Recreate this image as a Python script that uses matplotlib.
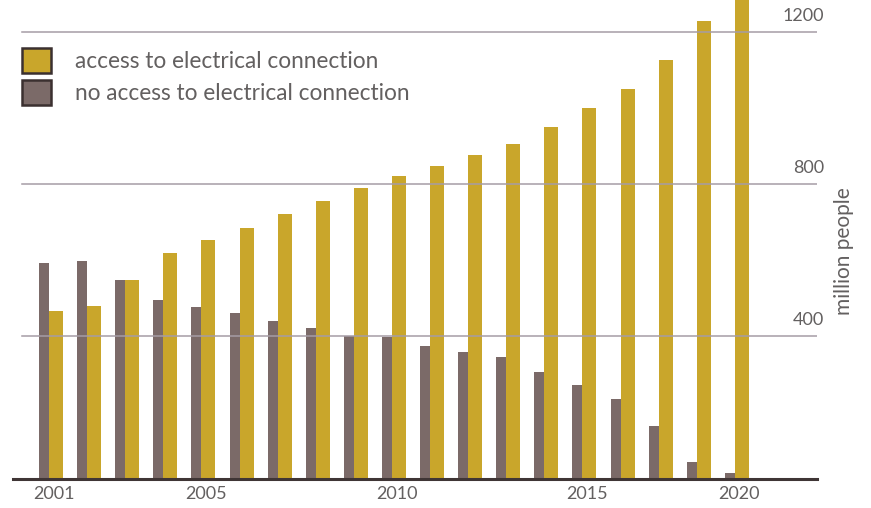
import numpy as np
import matplotlib.pyplot as plt
import matplotlib.transforms as mtransforms
from matplotlib.patches import Patch

# Values (million people), one pair per bar group
access = [466, 478, 547, 617, 651, 684, 719, 755, 789, 820,
          846, 875, 904, 950, 998, 1048, 1125, 1229, 1320]
no_access = [592, 597, 547, 494, 476, 460, 439, 421, 400, 397,
             373, 356, 343, 305, 270, 233, 162, 68, 39]
tick_pos = [0, 4, 9, 14, 18]
tick_labels = ['2001', '2005', '2010', '2015', '2020']
grid_values = [400, 800, 1200]

yellow = '#C9A62B'
brown = '#7B6A68'
text_col = '#636060'
font = 'Lato'

fig = plt.figure(figsize=(8.71, 5.08), dpi=100)
ax = fig.add_axes([13 / 871, 1 - 479 / 508, 804 / 871, 479 / 508])

x = np.arange(len(access))
ax.bar(x, no_access, width=-10 / 38.1, align='edge', color=brown, zorder=2)
ax.bar(x, access, width=14 / 38.1, align='edge', color=yellow, zorder=2)

ax.set_xlim(-36 / 38.1, 768 / 38.1)
ax.set_ylim(22.9, 1283.4)

# horizontal guide lines with labels sitting above them on the right
trans = mtransforms.blended_transform_factory(ax.transAxes, ax.transData)
for v in grid_values:
    ax.axhline(v, xmin=9 / 804, xmax=1, color='#a59ca5', lw=1.1, zorder=3)
    ax.annotate(str(v), xy=(1, v), xycoords=trans, xytext=(7, 8),
                textcoords='offset pixels', ha='right', va='bottom',
                fontsize=13, color=text_col, family=font, annotation_clip=False)

fig.text(844 / 871, 1 - 251 / 508, 'million people', rotation=90,
         ha='center', va='center', fontsize=15, color=text_col, family=font)

for s in ['top', 'left', 'right']:
    ax.spines[s].set_visible(False)
ax.spines['bottom'].set_color('#3f3535')
ax.spines['bottom'].set_linewidth(2.2)
ax.set_yticks([])
ax.set_xticks(np.array(tick_pos) + 0.12)
ax.set_xticklabels(tick_labels, fontsize=13, color=text_col, family=font)
ax.tick_params(axis='x', length=0, pad=5)

handles = [Patch(facecolor=yellow, edgecolor='#3b3030', lw=1.8),
           Patch(facecolor=brown, edgecolor='#3b3030', lw=1.8)]
ax.legend(handles, ['access to electrical connection',
                    'no access to electrical connection'],
          loc='upper left', bbox_to_anchor=(22 / 871, 1 - 48 / 508),
          bbox_transform=fig.transFigure, frameon=False,
          handlelength=1.3, handleheight=1.3, handletextpad=1.05,
          labelspacing=0.33, borderpad=0, borderaxespad=0,
          prop={'family': font, 'size': 16.3}, labelcolor=text_col)

fig.savefig('out.png', dpi=100)
